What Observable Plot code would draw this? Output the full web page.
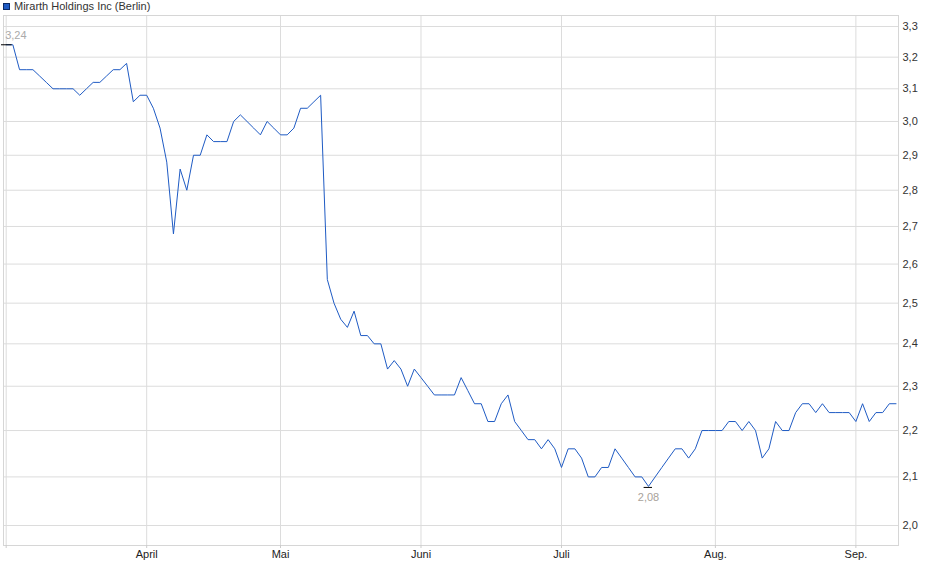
<!DOCTYPE html>
<html><head><meta charset="utf-8">
<script src="https://cdn.jsdelivr.net/npm/d3@7"></script>
<script src="https://cdn.jsdelivr.net/npm/@observablehq/plot@0.6"></script>
<style>
body{margin:0;background:#fff;font-family:"Liberation Sans",Arial,sans-serif;}
#wrap{position:relative;width:940px;height:579px;overflow:hidden;}
#sw{position:absolute;left:3px;top:3px;width:5px;height:5px;background:#1f5bc4;border:1px solid #0b2a66;}
#lt{position:absolute;left:14px;top:0px;line-height:13px;font-size:11px;color:#333;white-space:nowrap;}
#chart{position:absolute;left:0;top:0;}
</style></head><body>
<div id="wrap"><div id="chart"></div><div id="sw"></div><div id="lt"></div></div>
<script>
const seriesName = "Mirarth Holdings Inc (Berlin)";
// closing prices per trading session (session 0 = 3 March, last = 9 Sep.)
const prices = [
  3.24,3.24,3.16,3.16,3.16,3.14,3.12,3.10,3.10,3.10,
  3.10,3.08,3.10,3.12,3.12,3.14,3.16,3.16,3.18,3.06,
  3.08,3.08,3.04,2.98,2.88,2.68,2.86,2.80,2.90,2.90,
  2.96,2.94,2.94,2.94,3.00,3.02,3.00,2.98,2.96,3.00,
  2.98,2.96,2.96,2.98,3.04,3.04,3.06,3.08,2.56,2.50,
  2.46,2.44,2.48,2.42,2.42,2.40,2.40,2.34,2.36,2.34,
  2.30,2.34,2.32,2.30,2.28,2.28,2.28,2.28,2.32,2.29,
  2.26,2.26,2.22,2.22,2.26,2.28,2.22,2.20,2.18,2.18,
  2.16,2.18,2.16,2.12,2.16,2.16,2.14,2.10,2.10,2.12,
  2.12,2.16,2.14,2.12,2.10,2.10,2.08,2.10,2.12,2.14,
  2.16,2.16,2.14,2.16,2.20,2.20,2.20,2.20,2.22,2.22,
  2.20,2.22,2.20,2.14,2.16,2.22,2.20,2.20,2.24,2.26,
  2.26,2.24,2.26,2.24,2.24,2.24,2.24,2.22,2.26,2.22,
  2.24,2.24,2.26,2.26
];
// first trading session of each month
const monthTickSessions = [0, 21, 41, 62, 83, 106, 127];
const monthTickLabels = ["", "April", "Mai", "Juni", "Juli", "Aug.", "Sep."];
const yTicks = [2.0,2.1,2.2,2.3,2.4,2.5,2.6,2.7,2.8,2.9,3.0,3.1,3.2,3.3];

document.getElementById("lt").textContent = seriesName;

const data = prices.map((p, i) => ({session: i, price: p}));
const maxPt = data[d3.maxIndex(data, d => d.price)];
const minPt = data[d3.minIndex(data, d => d.price)];
const comma = (v, f) => d3.format(f)(v).replace(".", ",");

const chart = Plot.plot({
  width: 940, height: 579,
  marginTop: 15, marginRight: 42, marginBottom: 34, marginLeft: 3,
  style: {fontFamily: "Liberation Sans, Arial, sans-serif", fontSize: "11px", color: "#333", background: "transparent"},
  x: {type: "linear", domain: [-0.4, 133.37], label: null},
  y: {type: "log", domain: [1.9603, 3.3366], label: null},
  marks: [
    Plot.gridY(yTicks, {stroke: "#dcdcdc", strokeOpacity: 1}),
    Plot.gridX(monthTickSessions, {stroke: "#dcdcdc", strokeOpacity: 1}),
    Plot.frame({stroke: "#d6d6d6"}),
    Plot.axisY(yTicks, {anchor: "right", tickSize: 0, tickPadding: 4, fill: "#333", label: null,
      tickFormat: d => comma(d, ".1f")}),
    Plot.axisX(monthTickSessions, {anchor: "bottom", tickSize: 3, tickPadding: 2, stroke: "#ccc", fill: "#222", label: null,
      tickFormat: d => monthTickLabels[monthTickSessions.indexOf(d)]}),
    Plot.line(data, {x: "session", y: "price", stroke: "#1f5bc4", strokeWidth: 1}),
    Plot.ruleY([maxPt], {y: "price", x1: d => d.session - 0.7, x2: d => d.session + 0.9, stroke: "#000"}),
    Plot.ruleY([minPt], {y: "price", x1: d => d.session - 0.65, x2: d => d.session + 0.6, stroke: "#000", dy: 1}),
    Plot.text([maxPt], {x: "session", y: "price", text: d => comma(d.price, ".2f"), textAnchor: "start", dx: -1, dy: -9, fill: "#aaa"}),
    Plot.text([minPt], {x: "session", y: "price", text: d => comma(d.price, ".2f"), dy: 11, fill: "#a8a29a"})
  ]
});
document.getElementById("chart").appendChild(chart);
</script>
</body></html>
